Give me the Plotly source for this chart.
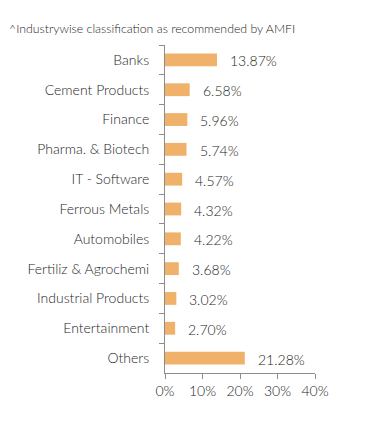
import plotly.graph_objects as go

categories = ["Banks", "Cement Products", "Finance", "Pharma. & Biotech", "IT - Software",
              "Ferrous Metals", "Automobiles", "Fertiliz & Agrochemi", "Industrial Products",
              "Entertainment", "Others"]
values = [13.87, 6.58, 5.96, 5.74, 4.57, 4.32, 4.22, 3.68, 3.02, 2.70, 21.28]
x_ticks = [0, 10, 20, 30, 40]
x_tick_labels = ["0%", "10%", "20%", "30%", "40%"]
title_text = "^Industrywise classification as recommended by AMFI"

font_family = "Lato, 'Open Sans', sans-serif"
text_color = "#262626"
axis_color = "#8c8c8c"
bar_color = "#F0B26B"
fw = 300
fs = 14

fig = go.Figure()
fig.add_trace(go.Bar(
    y=categories, x=values, orientation="h",
    marker=dict(color=bar_color, line=dict(width=0)),
    hoverinfo="skip",
))

for c, v in zip(categories, values):
    fig.add_annotation(x=v, y=c, text=f"{v:.2f}%", showarrow=False,
                       xanchor="left", xshift=11, yshift=-1,
                       font=dict(family=font_family, size=fs, color=text_color, weight=fw))

fig.add_annotation(x=0, y=1, xref="paper", yref="paper", xanchor="left", yanchor="bottom",
                   text=title_text, showarrow=False,
                   xshift=-158, yshift=7,
                   font=dict(family=font_family, size=12.3, color=text_color, weight=fw))

fig.update_layout(
    width=391, height=426,
    margin=dict(l=157, r=84, t=37, b=61),
    paper_bgcolor="white", plot_bgcolor="white",
    bargap=0.57, showlegend=False,
    font=dict(family=font_family, size=fs, color=text_color, weight=fw),
)
fig.update_xaxes(range=[0, 40], tickvals=x_ticks, ticktext=x_tick_labels,
                 showgrid=False, zeroline=False, showline=True, linecolor=axis_color, linewidth=1,
                 ticks="outside", ticklen=5, tickcolor=axis_color,
                 tickfont=dict(family=font_family, size=fs, color=text_color, weight=fw), fixedrange=True)
fig.update_yaxes(autorange="reversed", showgrid=False, zeroline=False,
                 showline=True, linecolor=axis_color, linewidth=1,
                 ticks="outside", ticklen=5, tickcolor=axis_color, tickson="boundaries",
                 ticklabelstandoff=12,
                 tickfont=dict(family=font_family, size=fs, color=text_color, weight=fw), fixedrange=True)

fig.write_html("out.html", config={"displayModeBar": False})
